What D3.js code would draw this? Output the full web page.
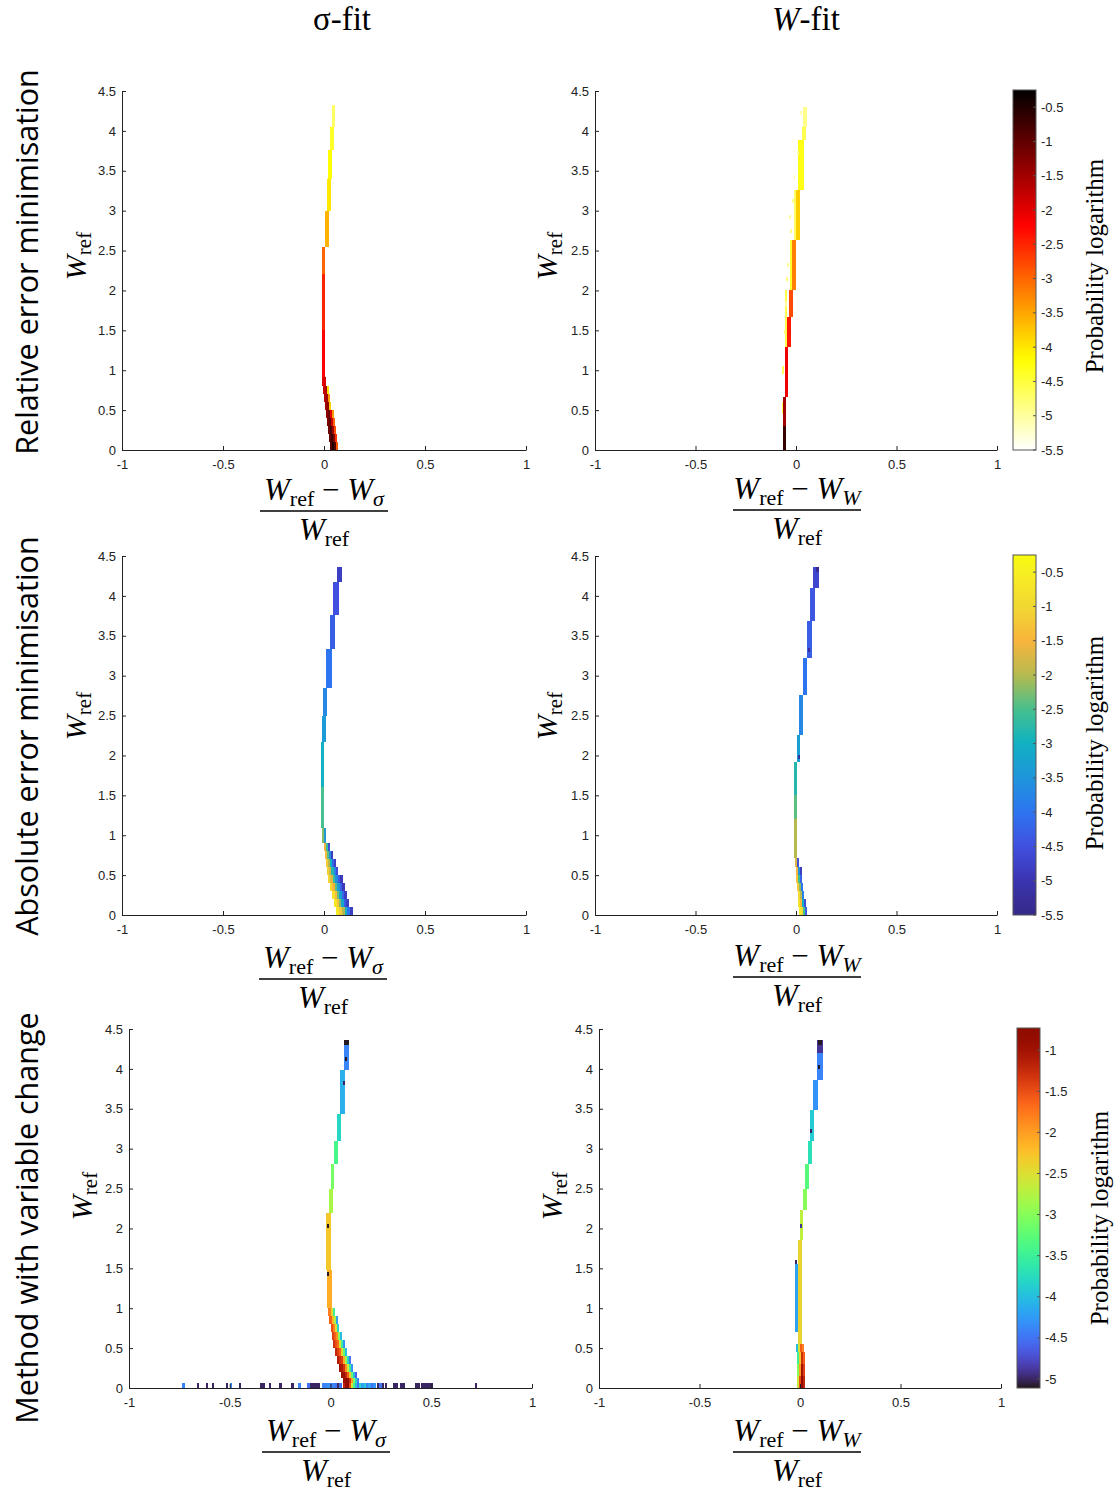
<!DOCTYPE html>
<html><head><meta charset="utf-8">
<script src="https://cdn.jsdelivr.net/npm/d3@7"></script>
<style>body{margin:0;background:#fff}svg{display:block}</style>
</head><body>
<svg id="c" width="1119" height="1492"></svg>
<script>
// ---------- data ----------
const xTicks = [-1, -0.5, 0, 0.5, 1];
const yTicks = [0, 0.5, 1, 1.5, 2, 2.5, 3, 3.5, 4, 4.5];
const cbTicksA = [-0.5, -1, -1.5, -2, -2.5, -3, -3.5, -4, -4.5, -5, -5.5];
const cbTicksC = [-1, -1.5, -2, -2.5, -3, -3.5, -4, -4.5, -5];
const cbDomainA = [-5.5, -0.25];
const cbDomainC = [-5.11, -0.73];
const colTitles = ["σ-fit", "W-fit"];
const rowTitles = ["Relative error minimisation", "Absolute error minimisation", "Method with variable change"];
const cbLabel = "Probability logarithm";
// parula samples (t in [0,1])
const parulaT = [0, 0.095, 0.19, 0.286, 0.381, 0.476, 0.571, 0.667, 0.762, 0.857, 0.952, 1];
const parulaC = ["#352a87", "#3b34b0", "#4150e0", "#2d74f0", "#1f95dc", "#10b1c2", "#45c08e", "#b6ba4e", "#f9b43c", "#f1d832", "#f7ef22", "#f9fb0e"];

// histogram rows: [W_ref low, W_ref high, x start, bin width, [log10 probability per bin]]
const relSigma = [
  [4.05, 4.32, 0.04, 0.015, [-4.7]],
  [3.76, 4.05, 0.03, 0.02, [-4.4]],
  [3.4, 3.76, 0.02, 0.02, [-4.2]],
  [3.0, 3.4, 0.015, 0.02, [-4.0]],
  [2.54, 3.0, 0.005, 0.02, [-3.6]],
  [2.2, 2.54, -0.01, 0.016, [-3.0]],
  [1.5, 2.2, -0.011, 0.016, [-2.5]],
  [0.91, 1.5, -0.011, 0.016, [-2.2]],
  [0.8, 0.91, -0.008, 0.01, [-2.0, -1.9]],
  [0.7, 0.8, -0.005, 0.01, [-1.8, -1.6, -3.9]],
  [0.6, 0.7, 0.0, 0.01, [-1.6, -1.5, -3.4]],
  [0.5, 0.6, 0.005, 0.01, [-1.5, -1.3, -3.8]],
  [0.4, 0.5, 0.01, 0.01, [-1.3, -1.1, -2.0, -3.4]],
  [0.3, 0.4, 0.015, 0.01, [-1.2, -1.0, -1.8, -3.0]],
  [0.2, 0.3, 0.02, 0.01, [-1.1, -0.8, -1.5, -2.8]],
  [0.1, 0.2, 0.025, 0.01, [-1.0, -0.7, -1.2, -2.6]],
  [0.0, 0.1, 0.03, 0.01, [-0.9, -0.5, -0.9, -2.9]]
];
const relW = [
  [4.05, 4.3, 0.035, 0.02, [-4.9]],
  [3.88, 4.05, 0.03, 0.02, [-4.6]],
  [3.26, 3.88, 0.012, 0.03, [-4.3]],
  [2.63, 3.26, 0.0, 0.02, [-3.8]],
  [2.0, 2.63, -0.02, 0.02, [-3.2]],
  [1.67, 2.0, -0.035, 0.02, [-2.8]],
  [1.29, 1.67, -0.045, 0.02, [-2.4]],
  [0.66, 1.29, -0.055, 0.015, [-2.1]],
  [0.3, 0.66, -0.063, 0.015, [-1.5]],
  [0.0, 0.3, -0.063, 0.015, [-0.7]],
  [2.0, 2.63, -0.03, 0.01, [-4.4]],
  [1.29, 2.0, -0.055, 0.01, [-4.6]],
  [2.63, 3.26, -0.01, 0.01, [-4.7]],
  [3.4, 3.45, -0.012, 0.008, [-5.0]],
  [2.9, 2.95, -0.035, 0.008, [-5.0]],
  [2.72, 2.77, -0.03, 0.008, [-4.9]],
  [2.3, 2.35, -0.045, 0.008, [-5.0]],
  [2.12, 2.17, -0.05, 0.008, [-4.8]],
  [1.8, 1.85, -0.055, 0.008, [-5.0]],
  [1.45, 1.5, -0.06, 0.008, [-4.8]],
  [0.95, 1.05, -0.068, 0.008, [-4.7]],
  [0.45, 0.6, -0.072, 0.008, [-4.6]],
  [3.7, 3.75, 0.005, 0.008, [-5.0]],
  [4.2, 4.25, 0.022, 0.008, [-5.1]],
  [3.1, 3.15, -0.02, 0.008, [-5.0]]
];
const absSigma = [
  [4.17, 4.36, 0.065, 0.025, [-4.8]],
  [3.76, 4.17, 0.045, 0.03, [-4.5]],
  [3.34, 3.76, 0.03, 0.025, [-4.3]],
  [2.84, 3.34, 0.01, 0.03, [-4.0]],
  [2.5, 2.84, -0.005, 0.02, [-3.7]],
  [2.17, 2.5, -0.01, 0.02, [-3.4]],
  [1.6, 2.17, -0.015, 0.015, [-3.0]],
  [1.09, 1.6, -0.015, 0.015, [-2.5]],
  [0.9, 1.09, -0.01, 0.01, [-2.2, -3.4]],
  [0.8, 0.9, 0.0, 0.01, [-1.6, -2.6, -4.6]],
  [0.7, 0.8, 0.005, 0.01, [-1.4, -2.4, -3.6, -4.8]],
  [0.6, 0.7, 0.01, 0.01, [-1.2, -2.0, -3.0, -4.2, -4.8]],
  [0.5, 0.6, 0.015, 0.011, [-1.1, -1.8, -2.8, -3.8, -4.6]],
  [0.4, 0.5, 0.02, 0.012, [-1.0, -1.7, -2.6, -3.6, -4.4, -4.9]],
  [0.3, 0.4, 0.03, 0.012, [-0.9, -1.5, -2.4, -3.4, -4.3, -4.9]],
  [0.2, 0.3, 0.04, 0.012, [-0.8, -1.4, -2.3, -3.3, -4.2, -4.8]],
  [0.1, 0.2, 0.05, 0.012, [-0.7, -1.3, -2.2, -3.2, -4.3, -4.8]],
  [0.0, 0.1, 0.06, 0.014, [-0.6, -1.2, -2.0, -3.0, -4.0, -4.8]]
];
const absW = [
  [4.1, 4.36, 0.085, 0.03, [-4.7]],
  [3.68, 4.1, 0.07, 0.025, [-4.4]],
  [3.22, 3.68, 0.055, 0.025, [-4.3]],
  [2.76, 3.22, 0.035, 0.02, [-4.0]],
  [2.26, 2.76, 0.015, 0.02, [-3.7]],
  [1.92, 2.26, 0.005, 0.015, [-3.3]],
  [1.5, 1.92, -0.01, 0.015, [-2.8]],
  [1.2, 1.5, -0.01, 0.015, [-2.4]],
  [0.71, 1.2, -0.01, 0.015, [-2.0]],
  [0.6, 0.71, -0.005, 0.01, [-1.7, -4.5]],
  [0.5, 0.6, 0.0, 0.01, [-1.5, -3.6, -4.8]],
  [0.4, 0.5, 0.0, 0.01, [-1.3, -2.6, -4.2]],
  [0.3, 0.4, 0.005, 0.01, [-1.2, -2.2, -4.0]],
  [0.2, 0.3, 0.01, 0.01, [-1.0, -2.0, -3.8]],
  [0.1, 0.2, 0.01, 0.01, [-0.8, -1.5, -3.0, -4.6]],
  [0.0, 0.1, 0.015, 0.01, [-0.5, -1.0, -2.5, -4.3]],
  [4.3, 4.36, 0.1, 0.012, [-5.4]],
  [3.3, 3.35, 0.06, 0.01, [-5.3]],
  [1.95, 2.0, 0.01, 0.01, [-5.2]]
];
const varSigma = [
  [4.3, 4.36, 0.065, 0.025, [-5.1]],
  [3.98, 4.3, 0.065, 0.025, [-4.4]],
  [3.43, 3.98, 0.045, 0.025, [-4.1]],
  [3.1, 3.43, 0.03, 0.02, [-3.8]],
  [2.81, 3.1, 0.015, 0.02, [-3.4]],
  [2.5, 2.81, 0.0, 0.015, [-3.1]],
  [2.19, 2.5, -0.005, 0.015, [-2.8]],
  [1.48, 2.19, -0.02, 0.02, [-2.3]],
  [1.0, 1.48, -0.015, 0.02, [-2.1]],
  [0.9, 1.0, -0.01, 0.01, [-1.8, -2.4, -3.5]],
  [0.8, 0.9, -0.005, 0.01, [-1.6, -2.2, -2.8, -4.2]],
  [0.7, 0.8, 0.0, 0.01, [-1.5, -1.8, -2.5, -3.8]],
  [0.6, 0.7, 0.005, 0.01, [-1.4, -1.6, -1.9, -3.0, -4.0]],
  [0.5, 0.6, 0.01, 0.01, [-1.3, -1.5, -1.7, -2.6, -3.5, -4.3]],
  [0.4, 0.5, 0.02, 0.01, [-1.2, -1.4, -1.6, -2.4, -3.2, -4.0]],
  [0.3, 0.4, 0.03, 0.01, [-1.1, -1.3, -1.4, -2.1, -2.9, -3.8, -4.5]],
  [0.2, 0.3, 0.04, 0.01, [-1.0, -1.1, -1.3, -1.9, -2.6, -3.5, -4.3]],
  [0.12, 0.2, 0.05, 0.01, [-0.95, -0.9, -1.2, -1.6, -2.3, -3.2, -4.0, -4.6]],
  [0.06, 0.12, 0.06, 0.01, [-1.0, -0.8, -0.85, -1.3, -2.0, -3.0, -3.8, -4.4]],
  [0.0, 0.06, 0.06, 0.01, [-1.2, -0.9, -0.8, -1.5, -2.6, -3.4, -4.0, -4.5]],
  [2.0, 2.05, -0.015, 0.01, [-5.1]],
  [1.4, 1.45, -0.015, 0.01, [-5.1]],
  [4.1, 4.15, 0.07, 0.01, [-5.1]],
  [3.8, 3.85, 0.06, 0.01, [-5.0]]
];
// isolated bins in the lowest W_ref row of the σ-fit, variable-change panel: [x, log10 probability]
const varSigmaBase = [
  [-0.735, -4.4], [-0.665, -5.0], [-0.62, -5.0], [-0.59, -5.0], [-0.52, -5.0], [-0.5, -4.4],
  [-0.455, -5.0], [-0.35, -5.0], [-0.338, -5.0], [-0.305, -5.0], [-0.255, -5.0], [-0.195, -5.0],
  [-0.16, -4.4], [-0.115, -4.5], [-0.1, -5.0], [-0.088, -5.0], [-0.076, -5.0], [-0.064, -5.0],
  [-0.04, -4.4], [-0.028, -4.4], [-0.016, -4.3], [-0.004, -4.5], [0.008, -4.4], [0.02, -4.5],
  [0.032, -5.0], [0.044, -4.5], [0.14, -3.8], [0.152, -4.2], [0.164, -3.9], [0.176, -4.4],
  [0.188, -4.2], [0.2, -4.5], [0.212, -4.3], [0.23, -5.0], [0.242, -4.5], [0.255, -5.0],
  [0.27, -5.0], [0.31, -5.0], [0.322, -5.0], [0.345, -5.0], [0.357, -5.0], [0.42, -5.0],
  [0.432, -5.0], [0.45, -5.0], [0.462, -5.0], [0.474, -5.0], [0.486, -5.0], [0.498, -5.0],
  [0.715, -5.0]
];
const varW = [
  [4.2, 4.36, 0.085, 0.03, [-4.9]],
  [3.86, 4.2, 0.085, 0.03, [-4.4]],
  [3.48, 3.86, 0.065, 0.025, [-4.3]],
  [3.1, 3.48, 0.05, 0.02, [-3.9]],
  [2.81, 3.1, 0.04, 0.02, [-3.7]],
  [2.5, 2.81, 0.025, 0.02, [-3.3]],
  [2.23, 2.5, 0.015, 0.02, [-3.0]],
  [1.85, 2.23, 0.0, 0.015, [-2.7]],
  [0.55, 1.85, -0.01, 0.02, [-2.4]],
  [0.7, 1.55, -0.025, 0.015, [-4.2]],
  [0.45, 0.55, -0.02, 0.01, [-4.0, -2.5, -1.6, -1.8]],
  [0.3, 0.45, -0.015, 0.01, [-3.5, -2.3, -1.3, -1.6]],
  [0.15, 0.3, -0.015, 0.01, [-3.0, -2.0, -1.0, -1.4]],
  [0.0, 0.15, -0.015, 0.01, [-2.6, -1.5, -0.8, -1.2]],
  [4.3, 4.36, 0.09, 0.02, [-5.1]],
  [4.0, 4.05, 0.09, 0.01, [-5.1]],
  [2.0, 2.05, 0.0, 0.01, [-4.9]],
  [1.55, 1.6, -0.025, 0.01, [-5.0]],
  [3.2, 3.25, 0.05, 0.01, [-5.0]]
];

// ---------- colour maps ----------
const clamp = v => Math.max(0, Math.min(1, v));
function hotColor(v) {
  const s = clamp((cbDomainA[1] - v) / (cbDomainA[1] - cbDomainA[0]));
  return d3.rgb(255 * clamp(s / 0.375), 255 * clamp((s - 0.375) / 0.375), 255 * clamp((s - 0.75) / 0.25)).toString();
}
const parulaScale = d3.scaleLinear().domain(parulaT).range(parulaC).interpolate(d3.interpolateRgb);
function parulaColor(v) { return parulaScale(clamp((v - cbDomainA[0]) / (cbDomainA[1] - cbDomainA[0]))); }
const turboSeq = d3.scaleSequential(d3.interpolateTurbo).domain(cbDomainC).clamp(true);
function turboColor(v) { return turboSeq(v); }

// ---------- layout ----------
const svg = d3.select("#c");
const INK = "#222";
const SERIF = "Liberation Serif, serif";
const SANS = "Liberation Sans, Arial, sans-serif";
const panels = [
  {data: relSigma, col: hotColor, xr: [122, 526], yr: [450, 91], sub: "σ"},
  {data: relW, col: hotColor, xr: [595, 997], yr: [450, 91], sub: "W"},
  {data: absSigma, col: parulaColor, xr: [122, 526], yr: [915, 556], sub: "σ"},
  {data: absW, col: parulaColor, xr: [595, 997], yr: [915, 556], sub: "W"},
  {data: varSigma, col: turboColor, xr: [129, 532], yr: [1388, 1029], sub: "σ", base: varSigmaBase},
  {data: varW, col: turboColor, xr: [599, 1001], yr: [1388, 1029], sub: "W"}
];
const fracPos = [[324, 511], [797, 510], [323, 979], [797, 977], [326, 1452], [797, 1452]];
const wLabelPos = [[86, 256], [557, 256], [86, 716], [557, 716], [92, 1196], [562, 1196]];

panels.forEach((p, i) => {
  const xs = d3.scaleLinear().domain([-1, 1]).range(p.xr);
  const ys = d3.scaleLinear().domain([0, 4.5]).range(p.yr);
  const g = svg.append("g");
  const cells = [];
  p.data.forEach(([w0, w1, x0, dx, vals]) => vals.forEach((v, k) =>
    cells.push({w0, w1, xa: x0 + k * dx, xb: x0 + (k + 1) * dx, v})));
  if (p.base) p.base.forEach(([x, v]) => cells.push({w0: 0, w1: 0.06, xa: x, xb: x + 0.012, v}));
  g.selectAll("rect").data(cells).join("rect")
    .attr("x", d => xs(d.xa)).attr("width", d => xs(d.xb) - xs(d.xa))
    .attr("y", d => ys(d.w1)).attr("height", d => ys(d.w0) - ys(d.w1))
    .attr("fill", d => p.col(d.v)).attr("shape-rendering", "crispEdges");

  const ax = g.append("g").attr("transform", `translate(0,${p.yr[0]})`)
    .call(d3.axisBottom(xs).tickValues(xTicks).tickSizeInner(-4).tickSizeOuter(0).tickPadding(10).tickFormat(d => String(d)));
  const ay = g.append("g").attr("transform", `translate(${p.xr[0]},0)`)
    .call(d3.axisLeft(ys).tickValues(yTicks).tickSizeInner(-4).tickSizeOuter(0).tickPadding(6).tickFormat(d => String(d)));
  [ax, ay].forEach(a => {
    a.select(".domain").attr("stroke", INK);
    a.selectAll(".tick line").attr("stroke", INK);
    a.selectAll(".tick text").attr("fill", INK).attr("font-family", SANS).attr("font-size", 13);
  });

  // x label fraction
  const [cx, ly] = fracPos[i];
  const num = svg.append("text").attr("x", cx).attr("y", ly - 11).attr("text-anchor", "middle")
    .attr("font-family", SERIF).attr("font-size", 31).attr("fill", "#000");
  num.append("tspan").attr("font-style", "italic").text("W");
  num.append("tspan").attr("font-size", 22).attr("dy", 6).text("ref");
  num.append("tspan").attr("dy", -6).text(" − ");
  num.append("tspan").attr("font-style", "italic").text("W");
  num.append("tspan").attr("font-size", 22).attr("dy", 6).attr("font-style", "italic").text(p.sub);
  svg.append("line").attr("x1", cx - 64).attr("x2", cx + 64).attr("y1", ly).attr("y2", ly)
    .attr("stroke", "#000").attr("stroke-width", 1.5);
  const den = svg.append("text").attr("x", cx).attr("y", ly + 29).attr("text-anchor", "middle")
    .attr("font-family", SERIF).attr("font-size", 31).attr("fill", "#000");
  den.append("tspan").attr("font-style", "italic").text("W");
  den.append("tspan").attr("font-size", 22).attr("dy", 6).text("ref");

  // y label
  const [wx, wy] = wLabelPos[i];
  const yl = svg.append("text").attr("transform", `translate(${wx},${wy}) rotate(-90)`).attr("text-anchor", "middle")
    .attr("font-family", SERIF).attr("font-size", 30).attr("fill", "#000");
  yl.append("tspan").attr("font-style", "italic").text("W");
  yl.append("tspan").attr("font-size", 21).attr("dy", 5).text("ref");
});

// ---------- colour bars ----------
const bars = [
  {col: hotColor, dom: cbDomainA, ticks: cbTicksA, x: 1013, y: [450, 90], lab: [1103, 266]},
  {col: parulaColor, dom: cbDomainA, ticks: cbTicksA, x: 1013, y: [915, 555], lab: [1103, 743]},
  {col: turboColor, dom: cbDomainC, ticks: cbTicksC, x: 1017, y: [1388, 1028], lab: [1108, 1218]}
];
const defs = svg.append("defs");
bars.forEach((b, i) => {
  const w = 23;
  const s = d3.scaleLinear().domain(b.dom).range(b.y);
  const grad = defs.append("linearGradient").attr("id", "cb" + i).attr("x1", 0).attr("x2", 0).attr("y1", 1).attr("y2", 0);
  d3.range(0, 1.0001, 0.02).forEach(t => grad.append("stop").attr("offset", t)
    .attr("stop-color", b.col(b.dom[0] + t * (b.dom[1] - b.dom[0]))));
  svg.append("rect").attr("x", b.x).attr("y", b.y[1]).attr("width", w).attr("height", b.y[0] - b.y[1])
    .attr("fill", `url(#cb${i})`).attr("stroke", "#555").attr("stroke-width", 1);
  const tg = svg.append("g");
  b.ticks.forEach(t => {
    tg.append("line").attr("x1", b.x + w - 3).attr("x2", b.x + w).attr("y1", s(t)).attr("y2", s(t)).attr("stroke", "#555");
    tg.append("text").attr("x", b.x + w + 5).attr("y", s(t)).attr("dy", "0.35em")
      .attr("font-family", SANS).attr("font-size", 13).attr("fill", INK).text(String(t));
  });
  svg.append("text").attr("transform", `translate(${b.lab[0]},${b.lab[1]}) rotate(-90)`).attr("text-anchor", "middle")
    .attr("font-family", SERIF).attr("font-size", 25).attr("fill", "#000").text(cbLabel);
});

// ---------- titles ----------
svg.append("text").attr("x", 342).attr("y", 30).attr("text-anchor", "middle")
  .attr("font-family", SERIF).attr("font-size", 33).text(colTitles[0]);
const t2 = svg.append("text").attr("x", 806).attr("y", 30).attr("text-anchor", "middle")
  .attr("font-family", SERIF).attr("font-size", 33);
t2.append("tspan").attr("font-style", "italic").text(colTitles[1].slice(0, 1));
t2.append("tspan").text(colTitles[1].slice(1));
const rowY = [262, 736, 1218];
rowTitles.forEach((r, i) => {
  svg.append("text").attr("transform", `translate(38,${rowY[i]}) rotate(-90)`).attr("text-anchor", "middle")
    .attr("font-family", "Open Sans, sans-serif").attr("font-size", 30.5).attr("fill", "#000").text(r);
});
</script>
</body></html>
